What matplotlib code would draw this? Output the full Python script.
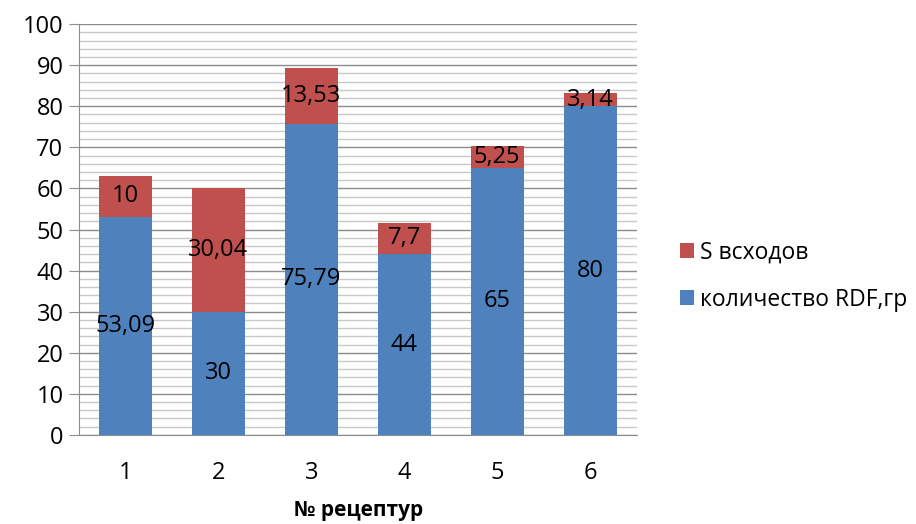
import numpy as np
import matplotlib.pyplot as plt
from matplotlib.patches import Patch
from matplotlib.ticker import MultipleLocator

categories = ["1", "2", "3", "4", "5", "6"]
rdf_values = [53.09, 30, 75.79, 44, 65, 80]
sprout_values = [10, 30.04, 13.53, 7.7, 5.25, 3.14]
rdf_labels = ["53,09", "30", "75,79", "44", "65", "80"]
sprout_labels = ["10", "30,04", "13,53", "7,7", "5,25", "3,14"]

blue = "#4F81BD"
red = "#C0504D"

plt.rcParams["font.family"] = ["Open Sans", "DejaVu Sans"]

fig = plt.figure(figsize=(9.16, 5.24), dpi=100)
ax = fig.add_axes([0.086, 0.17, 0.609, 0.784])

x = np.arange(1, len(categories) + 1)
bar_width = 0.57

ax.bar(x, rdf_values, width=bar_width, color=blue, zorder=3)
ax.bar(x, sprout_values, width=bar_width, bottom=rdf_values, color=red, zorder=3)

for xi, v, lab in zip(x, rdf_values, rdf_labels):
    ax.text(xi, v / 2, lab, ha="center", va="center", fontsize=17, zorder=4)

for xi, b, v, lab in zip(x, rdf_values, sprout_values, sprout_labels):
    ax.text(xi, b + v / 2, lab, ha="center", va="center", fontsize=17, zorder=4)

ax.set_xlim(0.5, 6.5)
ax.set_ylim(0, 100)
ax.yaxis.set_major_locator(MultipleLocator(10))
ax.yaxis.set_minor_locator(MultipleLocator(2))
ax.grid(which="major", axis="y", color="#8c8c8c", linewidth=1.0, zorder=1)
ax.grid(which="minor", axis="y", color="#c8c8c8", linewidth=1.0, zorder=1)

ax.set_xticks(x)
ax.set_xticklabels(categories)
ax.tick_params(axis="x", length=0, labelsize=17, pad=19)
ax.tick_params(axis="y", which="major", length=7, color="#8c8c8c", labelsize=17, pad=4)
ax.tick_params(axis="y", which="minor", length=0)

for side in ["top", "right"]:
    ax.spines[side].set_visible(False)
for side in ["left", "bottom"]:
    ax.spines[side].set_color("#8c8c8c")

# axis title sits very close to the bottom edge in the reference
fig.text(0.391, 0.025, "№ рецептур", ha="center", va="center",
         fontsize=15, fontweight="bold")

handles = [Patch(facecolor=red), Patch(facecolor=blue)]
fig.legend(handles, ["S всходов", "количество RDF,гр"],
           loc="center left", bbox_to_anchor=(0.72, 0.473),
           frameon=False, fontsize=16.5, handlelength=0.6, handleheight=0.6,
           handletextpad=0.25, labelspacing=1.0)

fig.savefig("out.png", dpi=100)
